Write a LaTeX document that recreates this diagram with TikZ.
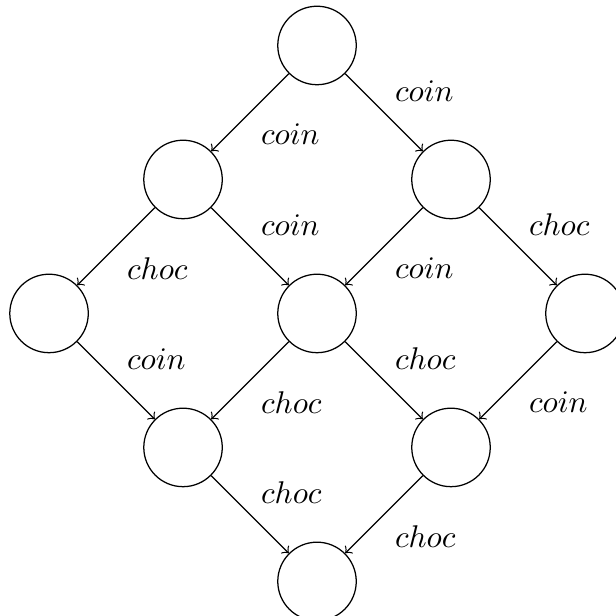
\documentclass[tikz,border=0pt]{standalone}
\usepackage{tikz}
\usetikzlibrary{positioning}

\begin{document}
\begin{tikzpicture}[on grid,node distance=1.5cm and 1.5cm,
    etat/.style={circle,draw,minimum size=2.5em,inner sep=0pt},
    lbl/.style={auto}]
        \useasboundingbox (-3.549,-6.386) rectangle (3.347,0.509);
        \node[etat] (s0) at (0,0) {};
        \node[etat,below left=of s0] (s1) {};
        \node[etat,below right=of s0] (s2) {};
        \node[etat,below left=of s1] (s3) {};
        \node[etat,below right=of s1] (s4) {};
        \node[etat,below right=of s2] (s5) {};
        \node[etat,below right=of s3] (s6) {};
        \node[etat,below right=of s4] (s7) {};
        \node[etat,below right=of s6] (s8) {};
        \draw[->] (s0) -- node[lbl]{$coin$} (s1);
        \draw[->] (s0) -- node[lbl]{$coin$} (s2);
        \draw[->] (s1) -- node[lbl]{$choc$} (s3);
        \draw[->] (s1) -- node[lbl]{$coin$} (s4);
        \draw[->] (s2) -- node[lbl]{$coin$} (s4);
        \draw[->] (s2) -- node[lbl]{$choc$} (s5);
        \draw[->] (s3) -- node[lbl]{$coin$} (s6);
        \draw[->] (s4) -- node[lbl]{$choc$} (s6);
        \draw[->] (s4) -- node[lbl]{$choc$} (s7);
        \draw[->] (s5) -- node[lbl]{$coin$} (s7);
        \draw[->] (s6) -- node[lbl]{$choc$} (s8);
        \draw[->] (s7) -- node[lbl]{$choc$} (s8);
      \end{tikzpicture}
\end{document}
